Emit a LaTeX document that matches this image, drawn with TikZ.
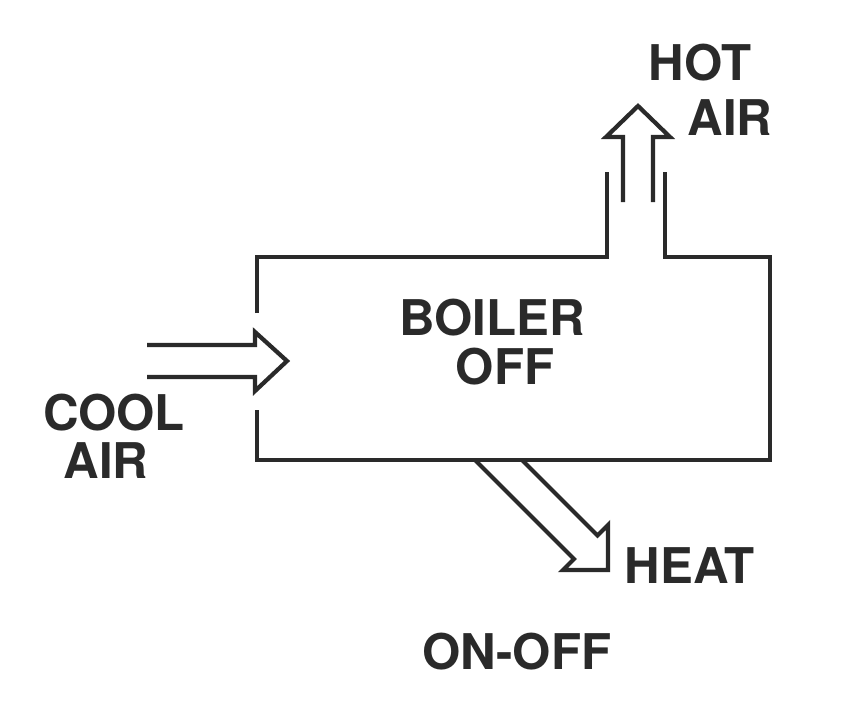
\documentclass[tikz,border=0pt]{standalone}
\usepackage{fontspec}
\setmainfont{TeX Gyre Heros}
\usetikzlibrary{calc}
\definecolor{ink}{HTML}{2A2A2A}

\begin{document}
\begin{tikzpicture}[x=0.025cm, y=-0.025cm,
  lbl/.style={font=\fontsize{35}{35}\selectfont\bfseries, text=ink, inner sep=0pt},
  wall/.style={draw=ink, line width=3pt}]
  \useasboundingbox[fill=white] (0,0) rectangle (856,703);
  % boiler casing, open at inlet and flue
  \coordinate (nw) at (257,257);
  \coordinate (ne) at (770,257);
  \coordinate (se) at (770,460);
  \coordinate (sw) at (257,460);
  \coordinate (inlo) at (257,410);
  \coordinate (inhi) at (257,313);
  \coordinate (flueL) at (607,172);
  \coordinate (flueR) at (665,172);
  \draw[wall] (inlo) -- (sw) -- (se) -- (ne) -- (flueR |- ne) -- (flueR);
  \draw[wall] (inhi) -- (nw) -- (flueL |- nw) -- (flueL);
  % hollow arrows
  \coordinate (coolTail) at (147,361);
  \coordinate (coolTip)  at (287,361);
  \draw[wall] ($(coolTail)+(0,-16)$) -- ($(coolTip)+(-32,-16)$) -- ++(0,-13)
    -- (coolTip) -- ($(coolTip)+(-32,30)$) -- ++(0,-14) -- ($(coolTail)+(0,16)$);
  \coordinate (hotTail) at (638,202);
  \coordinate (hotTip)  at (638,106);
  \draw[wall] ($(hotTail)+(-15,0)$) -- ($(hotTip)+(-15,31)$) -- ++(-17,0)
    -- (hotTip) -- ($(hotTip)+(32,31)$) -- ++(-17,0) -- ($(hotTail)+(15,0)$);
  \coordinate (heatTail) at (498.5,460);
  \coordinate (heatTip)  at (608,570);
  \draw[wall] ($(heatTail)+(23.5,0)$) -- ($(heatTip)+(-10.5,-34.5)$) -- ($(heatTip)+(0,-45)$)
    -- (heatTip) -- ($(heatTip)+(-45,0)$) -- ($(heatTip)+(-34,-11)$) -- ($(heatTail)+(-23.5,0)$);
  % labels
  \node[lbl] (hot)     at (700,63)  {HOT};
  \node[lbl] (hotair)  at (730,118) {AIR};
  \node[lbl] (boiler)  at (492,318) {BOILER};
  \node[lbl] (off)     at (505,367) {OFF};
  \node[lbl] (cool)    at (114,413) {COOL};
  \node[lbl] (coolair) at (106,461) {AIR};
  \node[lbl] (heat)    at (690,566) {HEAT};
  \node[lbl] (onoff)   at (517,652) {ON-OFF};
\end{tikzpicture}
\end{document}
